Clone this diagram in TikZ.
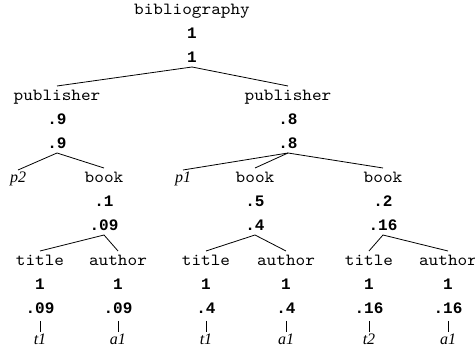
\documentclass[tikz,border=0pt]{standalone}
\usepackage{fontspec}
\setmainfont{Liberation Serif}
\newfontfamily\valmono{Liberation Mono}
\newfontfamily\labelmono[FakeStretch=1.08]{lmmono10-regular.otf}
\begin{document}
\begin{tikzpicture}[x=1pt,y=-1pt,
  every node/.style={inner sep=0pt,anchor=base},
  lbl/.style={font=\labelmono\fontsize{17}{17}\selectfont,text height=9pt,text depth=0pt,outer ysep=6pt},
  num/.style={font=\valmono\bfseries\fontsize{16}{16}\selectfont,text height=9pt,text depth=0pt,outer ysep=4.5pt},
  leaf/.style={font=\fontsize{16}{16}\selectfont\itshape,text height=10pt,text depth=0pt,outer ysep=3pt},
  edge/.style={draw=black,line width=0.8pt}]
\useasboundingbox (0,0) rectangle (475,352);

% element label with its two weights below it
\newcommand{\treeelem}[6]{%
  \node[lbl] (#1) at (#2,#3) {#4};
  \node[num] (#1u) at (#2,#3+24) {#5};
  \node[num] (#1v) at (#2,#3+47.5) {#6};}

% root
\treeelem{bib}{192}{15}{bibliography}{1}{1}

% publishers
\treeelem{pubL}{57}{101}{publisher}{.9}{.9}
\treeelem{pubR}{288}{101}{publisher}{.8}{.8}

% books and publisher values
\node[leaf] (p2) at (18,183) {p2};
\treeelem{bookA}{104}{183}{book}{.1}{.09}
\node[leaf] (p1) at (183,183) {p1};
\treeelem{bookB}{255}{183}{book}{.5}{.4}
\treeelem{bookC}{383}{183}{book}{.2}{.16}

% titles and authors
\treeelem{titA}{40}{266}{title}{1}{.09}
\treeelem{autA}{118}{266}{author}{1}{.09}
\treeelem{titB}{206}{266}{title}{1}{.4}
\treeelem{autB}{286}{266}{author}{1}{.4}
\treeelem{titC}{369}{266}{title}{1}{.16}
\treeelem{autC}{448}{266}{author}{1}{.16}

% leaf values
\node[leaf] (vtA) at (40,345) {t1};
\node[leaf] (vaA) at (118,345) {a1};
\node[leaf] (vtB) at (206,345) {t1};
\node[leaf] (vaB) at (286,345) {a1};
\node[leaf] (vtC) at (369,345) {t2};
\node[leaf] (vaC) at (448,345) {a1};

% tree edges
\draw[edge] (pubL.north) -- (bibv.south) -- (pubR.north);
\draw[edge] (p2.north) -- (pubLv.south) -- (bookA.north);
\draw[edge] (p1.north) -- (pubRv.south) -- (bookC.north);
\draw[edge] (pubRv.south) -- (bookB.north);
\draw[edge] (titA.north) -- (bookAv.south) -- (autA.north);
\draw[edge] (titB.north) -- (bookBv.south) -- (autB.north);
\draw[edge] (titC.north) -- (bookCv.south) -- (autC.north);

% value edges
\foreach \e/\v in {titA/vtA,autA/vaA,titB/vtB,autB/vaB,titC/vtC,autC/vaC}
  \draw[edge] ([yshift=-3pt]\e v.south) -- (\v.north);
\end{tikzpicture}
\end{document}
